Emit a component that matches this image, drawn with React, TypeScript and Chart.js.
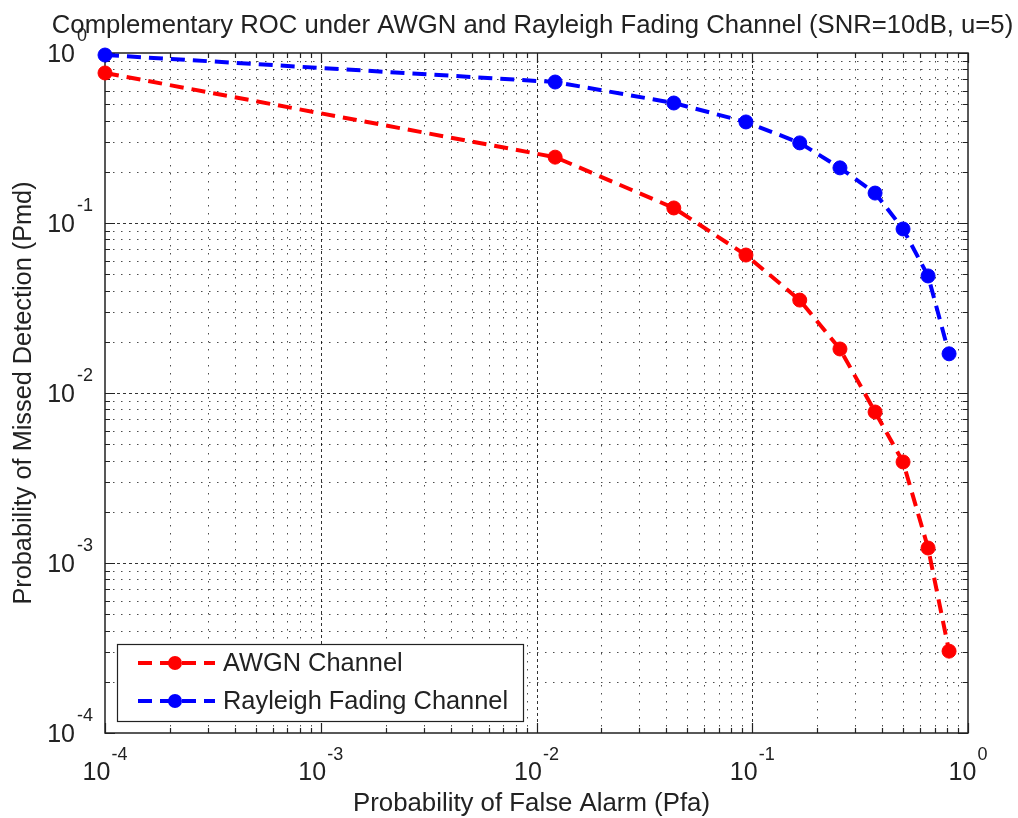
import React, { useEffect, useRef } from "react";
import { Chart, registerables } from "chart.js";

Chart.register(...registerables);

// ---------- data ----------
const pfa = [1e-4, 0.0122, 0.0433, 0.0935, 0.166, 0.255, 0.371, 0.5, 0.653, 0.817];
const pmdAwgn = [0.763, 0.244, 0.1226, 0.0648, 0.0352, 0.01815, 0.00773, 0.00393, 0.001225, 0.000303];
const pmdRayleigh = [0.973, 0.675, 0.508, 0.393, 0.296, 0.211, 0.15, 0.0922, 0.0488, 0.017];
const decadeExponents = [-4, -3, -2, -1, 0];
const seriesLabels = ["AWGN Channel", "Rayleigh Fading Channel"];
const seriesColors = ["#ff0000", "#0000ff"];
const chartTitle = "Complementary ROC under AWGN and Rayleigh Fading Channel (SNR=10dB, u=5)";
const xTitle = "Probability of False Alarm (Pfa)";
const yTitle = "Probability of Missed Detection (Pmd)";

const FONT = '"Liberation Sans", Arial, Helvetica, sans-serif';
const TEXT = "#222";

function gridValues(): { v: number; major: boolean }[] {
  const out: { v: number; major: boolean }[] = [];
  for (let i = 0; i < decadeExponents.length - 1; i++) {
    const e = decadeExponents[i];
    for (let m = 1; m <= 9; m++) out.push({ v: m * Math.pow(10, e), major: m === 1 });
  }
  out.push({ v: Math.pow(10, decadeExponents[decadeExponents.length - 1]), major: true });
  return out;
}

const matlabAxes = {
  id: "matlabAxes",
  beforeDatasetsDraw(chart: any) {
    const { ctx, chartArea: a, scales } = chart;
    const xs = scales.x;
    const ys = scales.y;
    const vals = gridValues();
    ctx.save();
    ctx.fillStyle = "#ffffff";
    ctx.fillRect(a.left, a.top, a.right - a.left, a.bottom - a.top);

    // grid
    ctx.lineWidth = 1;
    for (const g of vals) {
      ctx.strokeStyle = g.major ? "rgba(0,0,0,0.8)" : "rgba(0,0,0,0.7)";
      ctx.setLineDash(g.major ? [3, 3] : [1.5, 6.5]);
      const px = Math.round(xs.getPixelForValue(g.v)) + 0.5;
      if (px > a.left + 1 && px < a.right - 1) {
        ctx.beginPath();
        ctx.moveTo(px, a.top);
        ctx.lineTo(px, a.bottom);
        ctx.stroke();
      }
      const py = Math.round(ys.getPixelForValue(g.v)) + 0.5;
      if (py > a.top + 1 && py < a.bottom - 1) {
        ctx.beginPath();
        ctx.moveTo(a.left, py);
        ctx.lineTo(a.right, py);
        ctx.stroke();
      }
    }
    ctx.setLineDash([]);

    // ticks (inside, on all four sides)
    ctx.strokeStyle = "#222";
    ctx.lineWidth = 1.2;
    for (const g of vals) {
      const len = g.major ? 10 : 5;
      const px = Math.round(xs.getPixelForValue(g.v)) + 0.5;
      ctx.beginPath();
      ctx.moveTo(px, a.bottom);
      ctx.lineTo(px, a.bottom - len);
      ctx.moveTo(px, a.top);
      ctx.lineTo(px, a.top + len);
      ctx.stroke();
      const py = Math.round(ys.getPixelForValue(g.v)) + 0.5;
      ctx.beginPath();
      ctx.moveTo(a.left, py);
      ctx.lineTo(a.left + len, py);
      ctx.moveTo(a.right, py);
      ctx.lineTo(a.right - len, py);
      ctx.stroke();
    }

    // box
    ctx.lineWidth = 1.5;
    ctx.strokeStyle = "#222";
    ctx.strokeRect(a.left, a.top, a.right - a.left, a.bottom - a.top);

    // tick labels
    ctx.fillStyle = TEXT;
    ctx.textBaseline = "alphabetic";
    for (const e of decadeExponents) {
      const v = Math.pow(10, e);
      const base = "10";
      const exp = String(e);
      ctx.font = `25px ${FONT}`;
      const wb = ctx.measureText(base).width;
      ctx.font = `18px ${FONT}`;
      const we = ctx.measureText(exp).width;
      // x axis
      const px = xs.getPixelForValue(v);
      const start = px - (wb + 1 + we) / 2;
      ctx.textAlign = "left";
      ctx.font = `25px ${FONT}`;
      ctx.fillText(base, start, a.bottom + 47);
      ctx.font = `18px ${FONT}`;
      ctx.fillText(exp, start + wb + 1, a.bottom + 27);
      // y axis
      const py = ys.getPixelForValue(v);
      ctx.font = `25px ${FONT}`;
      ctx.textAlign = "right";
      ctx.fillText(base, a.left - 30, py + 9);
      ctx.font = `18px ${FONT}`;
      ctx.textAlign = "left";
      ctx.fillText(exp, a.left - 28, py - 12);
    }

    // titles
    ctx.font = `25.7px ${FONT}`;
    ctx.textAlign = "center";
    ctx.fillText(chartTitle, (a.left + a.right) / 2 - 4, 33);
    ctx.font = `25.8px ${FONT}`;
    ctx.fillText(xTitle, (a.left + a.right) / 2 - 5, a.bottom + 78);
    ctx.font = `25.3px ${FONT}`;
    ctx.save();
    ctx.translate(31, (a.top + a.bottom) / 2);
    ctx.rotate(-Math.PI / 2);
    ctx.fillText(yTitle, 0, 0);
    ctx.restore();
    ctx.restore();
  },
  afterDatasetsDraw(chart: any) {
    const { ctx, chartArea: a } = chart;
    ctx.save();
    const bx = a.left + 12;
    const by = a.bottom - 89;
    const bw = 406;
    const bh = 77;
    ctx.fillStyle = "#ffffff";
    ctx.fillRect(bx, by, bw, bh);
    ctx.lineWidth = 1.2;
    ctx.strokeStyle = "#222";
    ctx.strokeRect(bx + 0.5, by + 0.5, bw, bh);
    chart.data.datasets.forEach((ds: any, i: number) => {
      const ly = by + 19 + i * 38;
      ctx.strokeStyle = ds.borderColor;
      ctx.lineWidth = 4;
      ctx.setLineDash([14, 8]);
      ctx.beginPath();
      ctx.moveTo(bx + 21, ly);
      ctx.lineTo(bx + 98, ly);
      ctx.stroke();
      ctx.setLineDash([]);
      ctx.fillStyle = ds.borderColor;
      ctx.beginPath();
      ctx.arc(bx + 58, ly, 7, 0, Math.PI * 2);
      ctx.fill();
      ctx.fillStyle = TEXT;
      ctx.font = `25.4px ${FONT}`;
      ctx.textAlign = "left";
      ctx.textBaseline = "middle";
      ctx.fillText(ds.label, bx + 106, ly + 1);
    });
    ctx.restore();
  },
};

export default function App() {
  const ref = useRef<HTMLCanvasElement | null>(null);
  useEffect(() => {
    if (!ref.current) return;
    const mk = (vals: number[]) => pfa.map((x, i) => ({ x, y: vals[i] }));
    const chart = new Chart(ref.current, {
      type: "line",
      data: {
        datasets: [pmdAwgn, pmdRayleigh].map((vals, i) => ({
          label: seriesLabels[i],
          data: mk(vals),
          borderColor: seriesColors[i],
          backgroundColor: seriesColors[i],
          pointBackgroundColor: seriesColors[i],
          pointBorderColor: seriesColors[i],
          pointRadius: 7,
          pointBorderWidth: 1,
          borderWidth: 4,
          borderDash: [14, 8],
          tension: 0,
          fill: false,
          clip: false as any,
        })),
      },
      options: {
        animation: false,
        responsive: false,
        devicePixelRatio: 1,
        layout: { padding: { left: 105, right: 50, top: 53, bottom: 85 } },
        plugins: { legend: { display: false }, tooltip: { enabled: false }, title: { display: false } },
        scales: {
          x: { type: "logarithmic", min: 1e-4, max: 1, display: false },
          y: { type: "logarithmic", min: 1e-4, max: 1, display: false },
        },
      },
      plugins: [matlabAxes],
    });
    return () => chart.destroy();
  }, []);
  return (
    <div style={{ position: "fixed", left: 0, top: 0, width: 1018, height: 818, background: "#fff" }}>
      <canvas ref={ref} width={1018} height={818} style={{ display: "block" }} />
    </div>
  );
}
